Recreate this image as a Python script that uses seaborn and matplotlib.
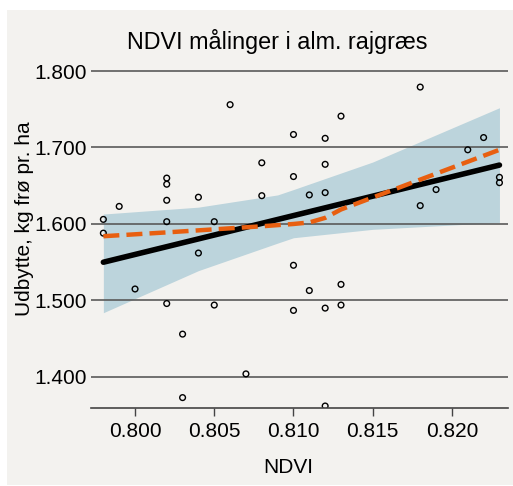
import matplotlib
matplotlib.use("Agg")
import matplotlib.pyplot as plt
from matplotlib.patches import Rectangle
from matplotlib.ticker import FormatStrFormatter
import pandas as pd
import seaborn as sns

# measured points (NDVI, yield)
ndvi = [0.798, 0.798, 0.799, 0.800,
        0.802, 0.802, 0.802, 0.802, 0.802,
        0.803, 0.803, 0.804, 0.804, 0.805, 0.805,
        0.806, 0.807, 0.808, 0.808,
        0.810, 0.810, 0.810, 0.810, 0.811, 0.811,
        0.812, 0.812, 0.812, 0.812, 0.812,
        0.813, 0.813, 0.813, 0.818, 0.818, 0.819,
        0.821, 0.822, 0.823, 0.823]
udbytte = [1.606, 1.588, 1.623, 1.515,
           1.660, 1.652, 1.631, 1.603, 1.496,
           1.456, 1.373, 1.562, 1.635, 1.603, 1.494,
           1.756, 1.404, 1.680, 1.637,
           1.717, 1.662, 1.546, 1.487, 1.638, 1.513,
           1.712, 1.678, 1.641, 1.490, 1.362,
           1.741, 1.521, 1.494, 1.779, 1.624, 1.645,
           1.697, 1.713, 1.661, 1.654]

# linear fit and its confidence band
fit_x = [0.798, 0.823]
fit_y = [1.550, 1.677]
band_x = [0.798, 0.804, 0.809, 0.810, 0.815, 0.823]
band_lo = [1.484, 1.539, 1.575, 1.582, 1.593, 1.602]
band_hi = [1.613, 1.622, 1.638, 1.645, 1.681, 1.752]

# smoothed curve (orange dashed)
smooth_x = [0.798, 0.802, 0.805, 0.808, 0.810, 0.811, 0.812, 0.813, 0.818, 0.823]
smooth_y = [1.584, 1.589, 1.593, 1.597, 1.600, 1.602, 1.608, 1.619, 1.658, 1.697]

xticks = [0.800, 0.805, 0.810, 0.815, 0.820]
yticks = [1.400, 1.500, 1.600, 1.700, 1.800]

df = pd.DataFrame({"NDVI": ndvi, "Udbytte": udbytte})
df_fit = pd.DataFrame({"NDVI": fit_x, "Udbytte": fit_y})
df_smooth = pd.DataFrame({"NDVI": smooth_x, "Udbytte": smooth_y})

sns.set_theme(style="white")
plt.rcParams["font.family"] = ["Liberation Sans", "DejaVu Sans"]
plt.rcParams["text.color"] = "black"

bg = "#f3f2ef"
W, H = 513, 486
fig = plt.figure(figsize=(W / 100, H / 100), dpi=100, facecolor="white")
fig.patches.append(Rectangle((7 / W, 1 / H), 506 / W, 475 / H,
                             transform=fig.transFigure, facecolor=bg,
                             edgecolor="none", zorder=-5))
ax = fig.add_axes([91 / W, 1 - 408 / H, 417 / W, 348 / H])
ax.set_facecolor(bg)

ax.fill_between(band_x, band_lo, band_hi, color="#bcd4dc", lw=0, zorder=1)
sns.scatterplot(data=df, x="NDVI", y="Udbytte", ax=ax, marker="o",
                facecolor="none", edgecolor="black", s=17, linewidth=1.0,
                zorder=2.2)
sns.lineplot(data=df_fit, x="NDVI", y="Udbytte", ax=ax, color="black",
             lw=4, zorder=3)
sns.lineplot(data=df_smooth, x="NDVI", y="Udbytte", ax=ax, color="#e85f10",
             lw=3.2, zorder=4)
ax.lines[-1].set_linestyle((0, (3.6, 1.6)))

ax.set_xlim(0.79722, 0.82354)
ax.set_ylim(1.3594, 1.8144)
ax.set_xticks(xticks)
ax.set_yticks(yticks)
ax.xaxis.set_major_formatter(FormatStrFormatter("%.3f"))
ax.yaxis.set_major_formatter(FormatStrFormatter("%.3f"))
ax.tick_params(axis="x", length=6, width=1, color="#444444", direction="out",
               labelsize=15, labelcolor="black", pad=4, bottom=True)
ax.tick_params(axis="y", length=0, labelsize=15, labelcolor="black", pad=3)
ax.grid(axis="y", color="#5a5a5a", lw=1.2)
ax.set_axisbelow("line")
for s in ["top", "right", "left"]:
    ax.spines[s].set_visible(False)
ax.spines["bottom"].set_color("#444444")
ax.spines["bottom"].set_linewidth(1.2)
ax.set_xlabel("")
ax.set_ylabel("")

fig.text(277 / W, 1 - 41 / H, "NDVI målinger i alm. rajgræs", ha="center",
         va="center", fontsize=16.8)
fig.text(288 / W, 1 - 467 / H, "NDVI", ha="center", va="center", fontsize=15)
fig.text(25 / W, 1 - 219 / H, "Udbytte, kg frø pr. ha", ha="center",
         va="center", rotation=90, fontsize=15)

fig.savefig("out.png", dpi=100, facecolor="white")
